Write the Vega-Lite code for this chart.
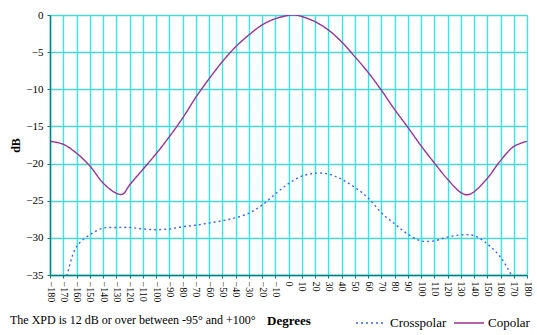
{
  "$schema": "https://vega.github.io/schema/vega-lite/v6.json",
  "width": 477,
  "height": 260,
  "autosize": "none",
  "padding": {"left": 50, "top": 15, "right": 10, "bottom": 60},
  "background": "white",
  "title": {
    "text": "The XPD is 12 dB or over between -95° and +100°",
    "orient": "bottom",
    "anchor": "start",
    "frame": "group",
    "font": "Liberation Serif",
    "fontSize": 12,
    "fontWeight": "normal",
    "color": "#000000",
    "dx": -40,
    "offset": -15
  },
  "data": {
    "values": [
      {"deg": -180, "db": -17.0, "series": "Copolar"},
      {"deg": -170, "db": -17.4, "series": "Copolar"},
      {"deg": -160, "db": -18.6, "series": "Copolar"},
      {"deg": -150, "db": -20.3, "series": "Copolar"},
      {"deg": -140, "db": -22.6, "series": "Copolar"},
      {"deg": -130, "db": -24.0, "series": "Copolar"},
      {"deg": -125, "db": -24.1, "series": "Copolar"},
      {"deg": -120, "db": -22.9, "series": "Copolar"},
      {"deg": -110, "db": -20.8, "series": "Copolar"},
      {"deg": -100, "db": -18.7, "series": "Copolar"},
      {"deg": -90, "db": -16.4, "series": "Copolar"},
      {"deg": -80, "db": -13.9, "series": "Copolar"},
      {"deg": -70, "db": -11.1, "series": "Copolar"},
      {"deg": -60, "db": -8.6, "series": "Copolar"},
      {"deg": -50, "db": -6.3, "series": "Copolar"},
      {"deg": -40, "db": -4.3, "series": "Copolar"},
      {"deg": -30, "db": -2.7, "series": "Copolar"},
      {"deg": -20, "db": -1.35, "series": "Copolar"},
      {"deg": -10, "db": -0.5, "series": "Copolar"},
      {"deg": 0, "db": -0.05, "series": "Copolar"},
      {"deg": 5, "db": 0, "series": "Copolar"},
      {"deg": 10, "db": -0.2, "series": "Copolar"},
      {"deg": 20, "db": -0.9, "series": "Copolar"},
      {"deg": 30, "db": -2.0, "series": "Copolar"},
      {"deg": 40, "db": -3.6, "series": "Copolar"},
      {"deg": 50, "db": -5.6, "series": "Copolar"},
      {"deg": 60, "db": -7.7, "series": "Copolar"},
      {"deg": 70, "db": -10.1, "series": "Copolar"},
      {"deg": 80, "db": -12.7, "series": "Copolar"},
      {"deg": 90, "db": -15.1, "series": "Copolar"},
      {"deg": 100, "db": -17.6, "series": "Copolar"},
      {"deg": 110, "db": -19.9, "series": "Copolar"},
      {"deg": 120, "db": -22.1, "series": "Copolar"},
      {"deg": 130, "db": -23.9, "series": "Copolar"},
      {"deg": 135, "db": -24.2, "series": "Copolar"},
      {"deg": 140, "db": -23.8, "series": "Copolar"},
      {"deg": 150, "db": -22.0, "series": "Copolar"},
      {"deg": 160, "db": -19.6, "series": "Copolar"},
      {"deg": 170, "db": -17.7, "series": "Copolar"},
      {"deg": 180, "db": -17.0, "series": "Copolar"},
      {"deg": -180, "db": -40.0, "series": "Crosspolar"},
      {"deg": -170, "db": -36.6, "series": "Crosspolar"},
      {"deg": -160, "db": -31.2, "series": "Crosspolar"},
      {"deg": -150, "db": -29.6, "series": "Crosspolar"},
      {"deg": -140, "db": -28.7, "series": "Crosspolar"},
      {"deg": -130, "db": -28.6, "series": "Crosspolar"},
      {"deg": -120, "db": -28.6, "series": "Crosspolar"},
      {"deg": -110, "db": -28.8, "series": "Crosspolar"},
      {"deg": -100, "db": -28.9, "series": "Crosspolar"},
      {"deg": -90, "db": -28.8, "series": "Crosspolar"},
      {"deg": -80, "db": -28.5, "series": "Crosspolar"},
      {"deg": -70, "db": -28.3, "series": "Crosspolar"},
      {"deg": -60, "db": -28.0, "series": "Crosspolar"},
      {"deg": -50, "db": -27.7, "series": "Crosspolar"},
      {"deg": -40, "db": -27.3, "series": "Crosspolar"},
      {"deg": -30, "db": -26.7, "series": "Crosspolar"},
      {"deg": -20, "db": -25.6, "series": "Crosspolar"},
      {"deg": -10, "db": -24.1, "series": "Crosspolar"},
      {"deg": 0, "db": -22.7, "series": "Crosspolar"},
      {"deg": 10, "db": -21.7, "series": "Crosspolar"},
      {"deg": 20, "db": -21.3, "series": "Crosspolar"},
      {"deg": 30, "db": -21.4, "series": "Crosspolar"},
      {"deg": 40, "db": -22.1, "series": "Crosspolar"},
      {"deg": 50, "db": -23.2, "series": "Crosspolar"},
      {"deg": 60, "db": -24.6, "series": "Crosspolar"},
      {"deg": 70, "db": -26.6, "series": "Crosspolar"},
      {"deg": 80, "db": -28.1, "series": "Crosspolar"},
      {"deg": 90, "db": -29.5, "series": "Crosspolar"},
      {"deg": 100, "db": -30.4, "series": "Crosspolar"},
      {"deg": 110, "db": -30.4, "series": "Crosspolar"},
      {"deg": 120, "db": -29.9, "series": "Crosspolar"},
      {"deg": 130, "db": -29.6, "series": "Crosspolar"},
      {"deg": 140, "db": -29.7, "series": "Crosspolar"},
      {"deg": 150, "db": -30.8, "series": "Crosspolar"},
      {"deg": 160, "db": -32.6, "series": "Crosspolar"},
      {"deg": 170, "db": -35.6, "series": "Crosspolar"},
      {"deg": 180, "db": -39.0, "series": "Crosspolar"}
    ]
  },
  "mark": {"type": "line", "interpolate": "catmull-rom", "strokeWidth": 1.4, "clip": true},
  "encoding": {
    "x": {
      "field": "deg",
      "type": "quantitative",
      "scale": {"domain": [-180, 180], "nice": false, "zero": false},
      "axis": {
        "title": "Degrees",
        "titleFont": "Liberation Serif",
        "titleFontSize": 13,
        "titleFontWeight": "bold",
        "titleColor": "#000000",
        "titlePadding": 13,
        "values": [-180,-170,-160,-150,-140,-130,-120,-110,-100,-90,-80,-70,-60,-50,-40,-30,-20,-10,0,10,20,30,40,50,60,70,80,90,100,110,120,130,140,150,160,170,180],
        "labelAngle": 90,
        "labelAlign": "left",
        "labelBaseline": "middle",
        "labelFont": "Liberation Serif",
        "labelFontSize": 10,
        "labelColor": "#000000",
        "labelPadding": 3,
        "labelOverlap": false,
        "labelFlush": false,
        "tickSize": 3,
        "tickColor": "#008080",
        "domainColor": "#008080",
        "domainWidth": 1.5,
        "gridColor": "#22F0F0",
        "gridWidth": 1.3,
        "grid": true
      }
    },
    "y": {
      "field": "db",
      "type": "quantitative",
      "scale": {"domain": [-35, 0], "nice": false, "zero": false},
      "axis": {
        "title": "dB",
        "titleFont": "Liberation Serif",
        "titleFontSize": 12,
        "titleFontWeight": "bold",
        "titleColor": "#000000",
        "titlePadding": 3,
        "values": [-35, -30, -25, -20, -15, -10, -5, 0],
        "labelFont": "Liberation Serif",
        "labelFontSize": 11,
        "labelColor": "#000000",
        "labelPadding": 4,
        "tickSize": 3,
        "tickColor": "#008080",
        "domainColor": "#008080",
        "domainWidth": 1.5,
        "gridColor": "#4DD4D4",
        "gridWidth": 1.5,
        "grid": true
      }
    },
    "color": {
      "field": "series",
      "type": "nominal",
      "scale": {"domain": ["Crosspolar", "Copolar"], "range": ["#3366FF", "#993399"]},
      "legend": {
        "title": null,
        "orient": "none",
        "direction": "horizontal",
        "legendX": 305,
        "legendY": 292,
        "symbolType": "stroke",
        "symbolSize": 900,
        "symbolStrokeWidth": 1.4,
        "labelFont": "Liberation Serif",
        "labelFontSize": 13,
        "labelColor": "#000000",
        "columnPadding": 4,
        "labelOffset": 3
      }
    },
    "strokeDash": {
      "field": "series",
      "type": "nominal",
      "scale": {"domain": ["Crosspolar", "Copolar"], "range": [[2, 3], [1, 0]]},
      "legend": {
        "title": null,
        "orient": "none",
        "direction": "horizontal",
        "legendX": 305,
        "legendY": 292,
        "symbolType": "stroke",
        "symbolSize": 900,
        "symbolStrokeWidth": 1.4,
        "labelFont": "Liberation Serif",
        "labelFontSize": 13,
        "labelColor": "#000000",
        "columnPadding": 4,
        "labelOffset": 3
      }
    }
  },
  "config": {
    "font": "Liberation Serif",
    "view": {"stroke": null},
    "axis": {"gridOpacity": 1},
    "legend": {"labelFont": "Liberation Serif", "labelFontSize": 13, "labelColor": "#000000"}
  }
}
